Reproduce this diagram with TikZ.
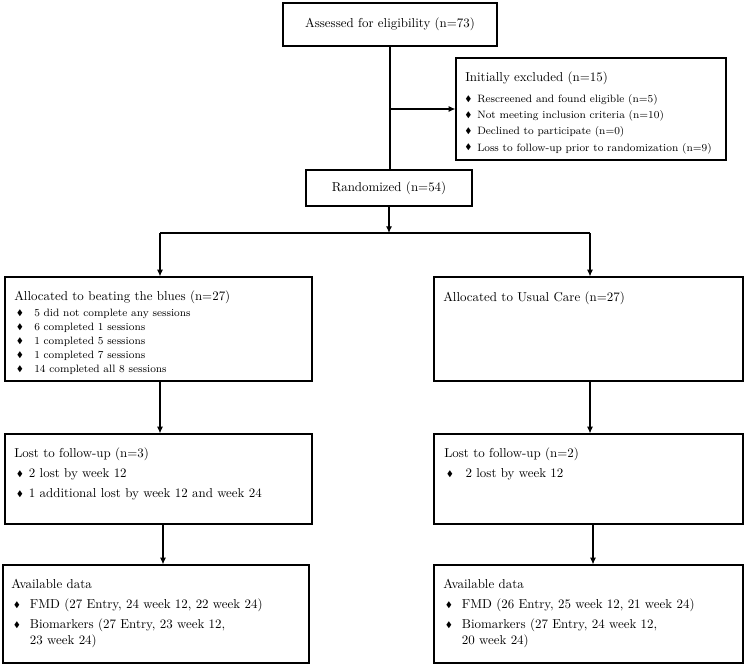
\documentclass[tikz,border=0pt]{standalone}
\usepackage{amssymb}
\usetikzlibrary{arrows.meta,fit}

\newcommand{\bul}[1]{\makebox[#1][l]{\raisebox{0.8pt}{\fontsize{6}{6}\selectfont$\blacklozenge$}}}

\begin{document}
\begin{tikzpicture}[x=0.75pt,y=-0.75pt,
    box/.style = {draw, line width=0.9pt, inner sep=0pt},
    txt/.style = {anchor=north west, align=left, inner sep=0pt},
    head/.style = {font=\fontsize{9.7}{11}\selectfont},
    arr/.style = {-{Latex[length=5pt,width=4.5pt]}, line width=0.8pt},
    conn/.style = {line width=0.8pt}]
    \useasboundingbox (0,0) rectangle (746,668);

    % top part
    \node[box, head, minimum width=160.5pt, minimum height=32.25pt] (assess) at (390,24.5) {Assessed for eligibility (n=73)};
    \node[box, fit={(456,58) (726,160)}] (excl) {};
    \node[txt, font=\fontsize{8}{12.2}\selectfont] (excltxt) at (465,72)
        {{\fontsize{9.7}{11}\selectfont Initially excluded (n=15)}\\[3pt]
         \bul{9pt}Rescreened and found eligible (n=5)\\
         \bul{9pt}Not meeting inclusion criteria (n=10)\\
         \bul{9pt}Declined to participate (n=0)\\
         \bul{9pt}Loss to follow-up prior to randomization (n=9)};
    \node[box, head, minimum width=124.5pt, minimum height=27pt] (rand) at (389,188) {Randomized (n=54)};

    \coordinate (split) at (389,233);
    \coordinate (hl) at (160,233);
    \coordinate (hr) at (590,233);

    % allocation
    \node[box, fit={(5,277) (312,381)}] (allocL) {};
    \node[txt, font=\fontsize{8}{10.5}\selectfont] (allocLtxt) at (14,291)
        {{\fontsize{9.7}{11}\selectfont Allocated to beating the blues (n=27)}\\[1pt]
         \hspace*{2pt}\bul{13pt}5 did not complete any sessions\\
         \hspace*{2pt}\bul{13pt}6 completed 1 sessions\\
         \hspace*{2pt}\bul{13pt}1 completed 5 sessions\\
         \hspace*{2pt}\bul{13pt}1 completed 7 sessions\\
         \hspace*{2pt}\bul{13pt}14 completed all 8 sessions};
    \node[box, fit={(434,277) (743,381)}] (allocR) {};
    \node[txt, head] (allocRtxt) at (443,292) {Allocated to Usual Care (n=27)};

    % follow-up
    \node[box, fit={(5,434) (312,524)}] (lostL) {};
    \node[txt, font=\fontsize{9.7}{15}\selectfont] (lostLtxt) at (14,448)
        {Lost to follow-up (n=3)\\
         \hspace*{2pt}\bul{9pt}2 lost by week 12\\
         \hspace*{2pt}\bul{9pt}1 additional lost by week 12 and week 24};
    \node[box, fit={(434,434) (743,524)}] (lostR) {};
    \node[txt, font=\fontsize{9.7}{15}\selectfont] (lostRtxt) at (444,448)
        {Lost to follow-up (n=2)\\
         \hspace*{2pt}\bul{14pt}2 lost by week 12};

    % analysis
    \node[box, fit={(3,565) (309,663)}] (availL) {};
    \node[txt, font=\fontsize{9.7}{15}\selectfont] (availLtxt) at (11,579)
        {Available data\\
         \hspace*{2pt}\bul{12pt}FMD (27 Entry, 24 week 12, 22 week 24)\\
         \hspace*{2pt}\bul{12pt}Biomarkers (27 Entry, 23 week 12,\\[-3pt]
         \hspace*{2pt}\hspace*{12pt}23 week 24)};
    \node[box, fit={(434,565) (743,663)}] (availR) {};
    \node[txt, font=\fontsize{9.7}{15}\selectfont] (availRtxt) at (443,579)
        {Available data\\
         \hspace*{2pt}\bul{12pt}FMD (26 Entry, 25 week 12, 21 week 24)\\
         \hspace*{2pt}\bul{12pt}Biomarkers (27 Entry, 24 week 12,\\[-3pt]
         \hspace*{2pt}\hspace*{12pt}20 week 24)};

    % connectors
    \draw[conn] (assess.south) -- (assess.south |- rand.north);
    \draw[arr] (assess.south |- excl.west) -- (excl.west);
    \draw[arr] (rand.south) -- (split);
    \draw[conn] (hl) -- (hr);
    \draw[arr] (hl) -- (hl |- allocL.north);
    \draw[arr] (hr) -- (hr |- allocR.north);
    \draw[arr] (hl |- allocL.south) -- (hl |- lostL.north);
    \draw[arr] (hr |- allocR.south) -- (hr |- lostR.north);
    \draw[arr] ([xshift=2.25pt]hl |- lostL.south) -- ([xshift=2.25pt]hl |- availL.north);
    \draw[arr] ([xshift=2.25pt]hr |- lostR.south) -- ([xshift=2.25pt]hr |- availR.north);
\end{tikzpicture}
\end{document}
